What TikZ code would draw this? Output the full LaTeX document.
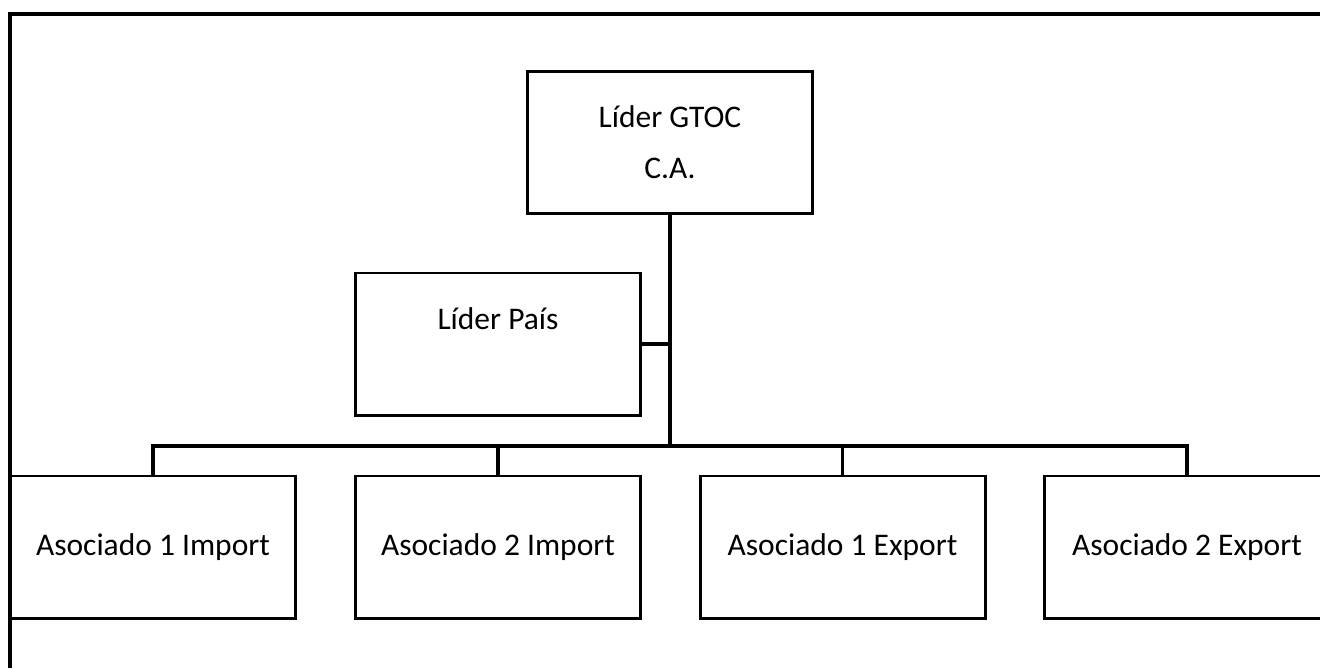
\documentclass[tikz,border=0pt]{standalone}
\usepackage{fontspec}
\setmainfont{Carlito}
\tikzset{
  orgbox/.style={draw=black, line width=1.5pt, minimum width=142.5bp, minimum height=71bp, inner sep=0pt, align=center, font=\fontsize{15.8}{25.5}\selectfont},
  link/.style={draw=black, line width=1.6pt},
  frame/.style={draw=black, line width=1.8pt}
}
\begin{document}
\begin{tikzpicture}[x=0.5bp, y=-0.5bp]
\useasboundingbox (0,0) rectangle (1320,668);
\fill[white] (0,0) rectangle (1320,668);
\begin{scope}
\clip (0,0) rectangle (1320,668);
\coordinate (fbl) at (10,668);
\coordinate (ftl) at (10,14);
\coordinate (ftr) at (1320,14);
\draw[frame] (fbl) -- (ftl) -- (ftr);
\node[orgbox] (gtoc) at (670,142.5) {Líder GTOC\\C.A.};
\node[orgbox] (pais) at (498,344) {Líder País\\\mbox{}};
\node[orgbox] (a1i) at (153,547) {Asociado 1 Import};
\node[orgbox] (a2i) at (498,547) {Asociado 2 Import};
\node[orgbox] (a1e) at (842.5,547) {Asociado 1 Export};
\node[orgbox] (a2e) at (1187,547) {Asociado 2 Export};
\coordinate (bus) at (670,446);
\draw[link] (gtoc.south) -- (bus);
\draw[link] (pais.east) -- (pais.east -| bus);
\draw[link] (a1i.north) |- (bus) -| (a2e.north);
\draw[link] (a2i.north) -- (a2i.north |- bus);
\draw[link] (a1e.north) -- (a1e.north |- bus);
\end{scope}
\end{tikzpicture}
\end{document}
